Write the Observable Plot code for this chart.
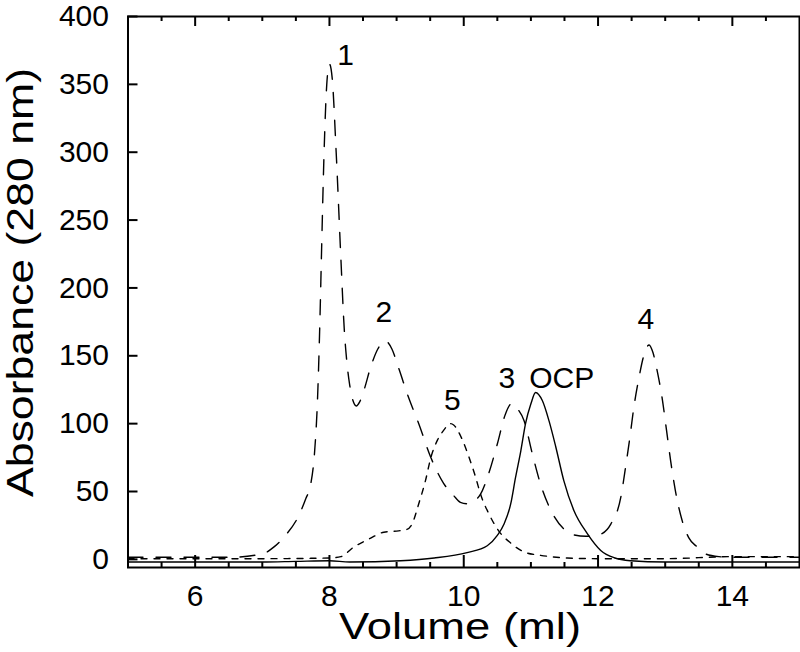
<!DOCTYPE html>
<html><head><meta charset="utf-8">
<script src="https://cdn.jsdelivr.net/npm/d3@7"></script>
<script src="https://cdn.jsdelivr.net/npm/@observablehq/plot@0.6"></script>
<style>body{margin:0;background:#fff;} svg{display:block;}</style>
</head><body><div id="chart"></div>
<script>
// Long-dashed trace (peaks 1, 2, 3, 4)
const volStd = [5.0,5.5,6.0,6.5,7.0,7.17,7.35,7.52,7.65,7.72,7.78,7.82,7.86,7.88,7.92,7.96,8.0,8.04,8.1,8.17,8.22,8.26,8.30,8.35,8.40,8.45,8.51,8.61,8.72,8.83,8.93,9.03,9.18,9.33,9.51,9.70,9.85,9.95,10.05,10.15,10.25,10.37,10.5,10.62,10.72,10.8,10.9,11.02,11.14,11.32,11.5,11.64,11.82,11.95,12.06,12.19,12.34,12.41,12.48,12.53,12.61,12.68,12.76,12.82,12.88,12.96,13.02,13.08,13.15,13.25,13.35,13.48,13.6,13.8,14.0,14.5,15.0];
const absStd = [1.5,1.5,1.5,1.5,4,9,18,30,45,55,80,115,180,222,300,350,365,355,300,222,170,145,129,117,113,116,124,141,155,161,155,141,119,100,75,56,47,42,41,43,48,63,85,107,115,111,102,78,56,34,22,18,17,17.5,19,26,46,68,92,111,134,150,158,152,139,117,95,73,51,29,16,9,4,2,1.5,1.5,1.5];
// Short-dashed trace (peak 5)
const volP5 = [5.0,6.0,7.0,8.0,8.17,8.36,8.59,8.81,9.03,9.15,9.23,9.33,9.43,9.51,9.61,9.70,9.8,9.85,9.98,10.08,10.18,10.25,10.37,10.52,10.7,10.92,11.14,11.54,12.0,13.0,14.0,15.0];
const absP5 = [0.5,0.5,0.5,1,2,9,15,20,21,22,26,41,58,75,88,95,100,99,88,75,60,48,34,21,12,5,3,1,0.5,0.5,2,2];
// Solid trace (OCP)
const volOCP = [5.0,6.0,7.0,7.5,8.0,8.3,9.06,9.56,10.05,10.35,10.5,10.6,10.7,10.77,10.85,10.92,11.0,11.07,11.17,11.27,11.37,11.49,11.64,11.84,12.04,12.24,12.48,13.0,15.0];
const absOCP = [-2,-2,-2,-1.5,-1,-2,-1,1,5,10,17.6,26,41,60,80,100,114.6,123,117,102,83,58,36,19,6.6,1.2,-1,-2,-2];

const peakLabels = ["1","2","5","3","OCP","4"];
const peakLabelVol = [8.24,8.81,9.83,10.64,11.46,12.71];
const peakLabelAbs = [371,182,117,133,133,177];

const xLabelTicks = [6,8,10,12,14];
const xMinorTicks = [5.5,6,6.5,7,7.5,8,8.5,9,9.5,10,10.5,11,11.5,12,12.5,13,13.5,14,14.5];
const yTicks = [0,50,100,150,200,250,300,350,400];

const W = 800, H = 652, mL = 127.5, mR = 1, mT = 16, mB = 85;
const plotW = W - mL - mR, plotH = H - mT - mB;

const tbl = (xs, ys) => xs.map((x, i) => ({x, y: ys[i]}));
const std = tbl(volStd, absStd), p5 = tbl(volP5, absP5), ocp = tbl(volOCP, absOCP);
const labels = peakLabels.map((t, i) => ({t, x: peakLabelVol[i], y: peakLabelAbs[i]}));
const xMajor = xMinorTicks.filter(v => xLabelTicks.includes(v));
const xMinor = xMinorTicks.filter(v => !xLabelTicks.includes(v));

const chart = Plot.plot({
  width: W, height: H,
  marginLeft: mL, marginRight: mR, marginTop: mT, marginBottom: mB,
  style: {fontFamily: "'Liberation Sans', Arial, sans-serif", fontSize: "30px", color: "black", background: "white"},
  x: {domain: [5, 15]},
  y: {domain: [-6, 400]},
  marks: [
    Plot.axisX({ticks: xLabelTicks, tickSize: 0, tickPadding: 17, fontSize: 30, label: null, tickFormat: d => String(d)}),
    Plot.axisY({ticks: yTicks, tickSize: 0, tickPadding: 19, fontSize: 30, label: null, tickFormat: d => String(d)}),
    // inward ticks
    Plot.ruleY(yTicks, {y: d => d, insetRight: plotW - 10, stroke: "black", strokeWidth: 2}),
    Plot.ruleX(xMinor, {x: d => d, insetTop: plotH - 5, stroke: "black", strokeWidth: 2}),
    Plot.ruleX(xMajor, {x: d => d, insetTop: plotH - 12, stroke: "black", strokeWidth: 2}),
    Plot.ruleX(xMinor, {x: d => d, insetBottom: plotH - 5, stroke: "black", strokeWidth: 2}),
    Plot.ruleX(xMajor, {x: d => d, insetBottom: plotH - 10, stroke: "black", strokeWidth: 2}),
    Plot.line(ocp, {x: "x", y: "y", stroke: "black", strokeWidth: 1.4, curve: "monotone-x"}),
    Plot.line(p5, {x: "x", y: "y", stroke: "black", strokeWidth: 1.4, strokeDasharray: "6,7", curve: "monotone-x"}),
    Plot.line(std, {x: "x", y: "y", stroke: "black", strokeWidth: 1.4, strokeDasharray: "15,13", curve: "monotone-x"}),
    Plot.text(labels, {x: "x", y: "y", text: "t", fontSize: 30, fill: "black"}),
    Plot.frame({stroke: "black", strokeWidth: 2})
  ]
});

const svg = d3.select(chart.tagName.toLowerCase() === "svg" ? chart : chart.querySelector("svg"));
svg.append("text")
  .attr("transform", "translate(33,282.5) rotate(-90)")
  .attr("text-anchor", "middle")
  .attr("font-size", 36)
  .attr("fill", "black")
  .attr("textLength", 429)
  .attr("lengthAdjust", "spacingAndGlyphs")
  .text("Absorbance (280 nm)");
svg.append("text")
  .attr("x", 460).attr("y", 639)
  .attr("text-anchor", "middle")
  .attr("font-size", 36)
  .attr("fill", "black")
  .attr("textLength", 242)
  .attr("lengthAdjust", "spacingAndGlyphs")
  .text("Volume (ml)");

document.getElementById("chart").appendChild(chart);
</script>
</body></html>
